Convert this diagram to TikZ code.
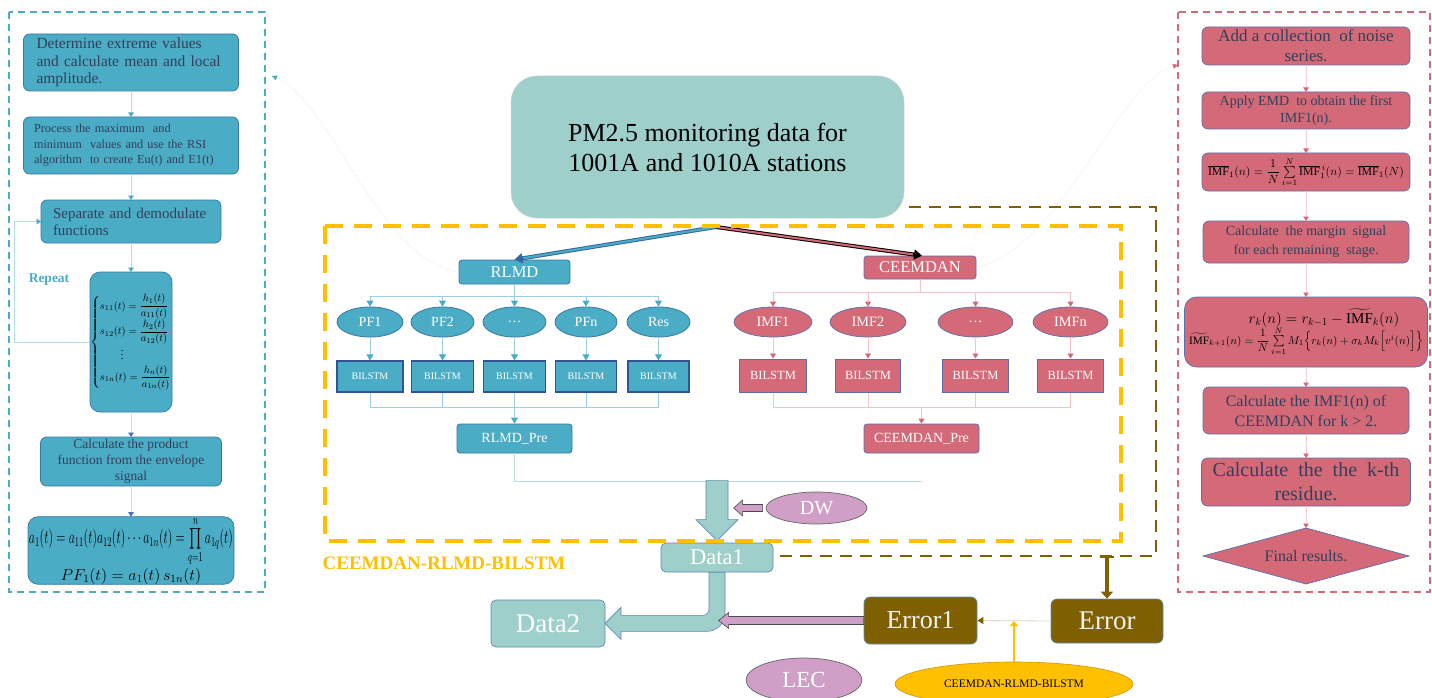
\RequirePackage{fix-cm}
\documentclass[tikz,border=0pt]{standalone}
\usepackage{amsmath}
\usepackage{graphicx}
\usepackage{fontspec}
\setmainfont{Liberation Serif}
\usetikzlibrary{arrows.meta,shapes.geometric,calc}
\definecolor{cblue}{HTML}{4BACC6}
\definecolor{cbluebd}{HTML}{3B77A4}
\definecolor{cbluedk}{HTML}{2F5597}
\definecolor{cbluelt}{HTML}{9CD0E0}
\definecolor{cred}{HTML}{D46A78}
\definecolor{credbd}{HTML}{5A6FAF}
\definecolor{credlt}{HTML}{F2C4CA}
\definecolor{cteal}{HTML}{9ECFCA}
\definecolor{ctealbd}{HTML}{5F88B4}
\definecolor{cbrown}{HTML}{7F6000}
\definecolor{cpink}{HTML}{CF9FC8}
\definecolor{corange}{HTML}{FFC000}
\definecolor{cnavy}{HTML}{333F5A}
\definecolor{cdblue}{HTML}{4472C4}
\newcommand\fsz[2]{\fontsize{#1}{#2}\selectfont}
\begin{document}
\begin{tikzpicture}[x=1pt,y=-1pt,
 lbox/.style={draw=cbluebd, fill=cblue, rounded corners=6pt, line width=0.7pt, inner sep=0pt, outer sep=0pt, text=cnavy},
 rbox/.style={draw=credbd, fill=cred, rounded corners=6pt, line width=0.7pt, inner sep=0pt, outer sep=0pt, text=cnavy, align=center},
 bnode/.style={draw=cbluebd, fill=cblue, line width=0.8pt, inner sep=0pt, text=white},
 bell/.style={bnode, ellipse, minimum height=30pt, font=\fsz{14}{16}},
 bbil/.style={draw=cbluedk, fill=cblue, line width=1.2pt, inner sep=0pt, text=white, minimum height=31pt, font=\fsz{10}{12}},
 rnode/.style={draw=credbd, fill=cred, line width=0.7pt, inner sep=0pt, text=white},
 rell/.style={rnode, ellipse, minimum height=30pt, font=\fsz{14.3}{16}},
 rbil/.style={draw=credbd, fill=cred, line width=1pt, inner sep=0pt, text=white, minimum height=33pt, font=\fsz{12.5}{14}},
 tbox/.style={draw=ctealbd, fill=cteal, line width=0.7pt, rounded corners=5pt, inner sep=0pt, text=white},
 pell/.style={draw=black!60, fill=cpink, ellipse, line width=0.7pt, inner sep=0pt, text=white},
 ebox/.style={draw=ctealbd, fill=cbrown, line width=0.7pt, rounded corners=6pt, inner sep=0pt, text=white!95!black},
 larrow/.style={draw=cblue!40, line width=0.6pt, -{Triangle[length=4.5pt,width=5.5pt,color=cblue]}},
 larrowd/.style={draw=cdblue!25, line width=0.6pt, -{Triangle[length=4.5pt,width=5.5pt,color=cdblue]}},
 rarrow/.style={draw=cred!30, line width=0.6pt, -{Triangle[length=4.5pt,width=5.5pt,color=cred]}},
 bline/.style={draw=cbluelt, line width=0.9pt},
 barrow/.style={bline, -{Triangle[length=6pt,width=7pt,color=cblue]}},
 rline/.style={draw=credlt, line width=0.7pt},
 rarr2/.style={rline, -{Triangle[length=5pt,width=6pt,color=cred]}},
 faint/.style={draw=black!5, line width=0.5pt}
]
\useasboundingbox (0,0) rectangle (1432,698);
\fill[white] (0,0) rectangle (1432,698);

% ---------------- left panel ----------------
\draw[cblue, line width=1.4pt, dash pattern=on 7pt off 5pt] (9,12) rectangle (265,592);
\node[lbox, minimum width=215pt, minimum height=57pt, text width=189pt, align=left, font=\fsz{15.5}{17.5}] (L1) at (131,62.5) {Determine extreme values\\and calculate mean and local\\amplitude.};
\node[lbox, minimum width=215pt, minimum height=57pt, text width=194pt, align=left, font=\fsz{12.3}{15.5}] (L2) at (131,145.5) {Process the maximum\ \ and\\minimum\ \ values and use the RSI\\algorithm\ \ to create Eu(t) and E1(t)};
\node[lbox, minimum width=180pt, minimum height=43pt, text width=156pt, align=left, font=\fsz{15}{17}] (L3) at (131,221.5) {Separate and demodulate\\functions};
\node[lbox, rounded corners=10pt, minimum width=82pt, minimum height=140pt, text=black, font=\fsz{10.5}{12}] (L4) at (131,342) {$\left\{\begin{array}{@{}l@{}} s_{11}(t)=\dfrac{h_1(t)}{a_{11}(t)}\\[7pt] s_{12}(t)=\dfrac{h_2(t)}{a_{12}(t)}\\[2pt] \qquad\vdots\\[2pt] s_{1n}(t)=\dfrac{h_n(t)}{a_{1n}(t)}\end{array}\right.$};
\node[lbox, minimum width=181pt, minimum height=49pt, align=center, font=\fsz{13.5}{16}] (L5) at (131,461.5) {Calculate the product\\function from the envelope\\signal};
\node[lbox, rounded corners=10pt, minimum width=206pt, minimum height=65pt, text=black, align=center, font=\fsz{16}{18}] (L6) at (131,550.5) {\resizebox{204pt}{27pt}{$a_1(t)=a_{11}(t)a_{12}(t)\cdots a_{1n}(t)=\prod\limits_{q=1}^{n}a_{1q}(t)$}\\[1pt]$PF_1(t)=a_1(t)\,s_{1n}(t)$};
\draw[larrow] (L1) -- (L2);
\draw[larrow] (L2) -- (L3);
\draw[larrow] (L3) -- (L4);
\draw[larrowd] (L4) -- (L5);
\draw[larrowd] (L5) -- (L6);
\coordinate (lp) at (14,0);
\draw[larrow] (L4.west) -- (L4.west -| lp) |- (L3.west);
\node[text=cblue, font=\fsz{13.5}{15}\bfseries] (rep) at (49,280) {Repeat};

% ---------------- right panel ----------------
\draw[cred, line width=1.4pt, dash pattern=on 7pt off 5pt] (1178,12) rectangle (1430,592);
\node[rbox, minimum width=208pt, minimum height=38pt, font=\fsz{17}{20}] (R1) at (1306,46) {Add a collection\ \ of noise\\series.};
\node[rbox, minimum width=208pt, minimum height=37pt, font=\fsz{14}{17}] (R2) at (1306,110.5) {Apply EMD\ \ to obtain the first\\IMF1(n).};
\node[rbox, minimum width=208pt, minimum height=38pt, text=black] (R3) at (1306,172) {\resizebox{196pt}{!}{$\overline{\mathrm{IMF}}_1(n)=\dfrac{1}{N}\sum\limits_{i=1}^{N}\overline{\mathrm{IMF}}{}_1^{\,i}(n)=\overline{\mathrm{IMF}}_1(N)$}};
\node[rbox, minimum width=206pt, minimum height=42pt, font=\fsz{14}{19}] (R4) at (1306,242) {Calculate\ \ the margin\ \ signal\\for each remaining\ \ stage.};
\node[rbox, rounded corners=12pt, minimum width=243pt, minimum height=70pt, text=black] (R5) at (1306,332) {\hspace*{36pt}{\fsz{15}{17}$r_k(n)=r_{k-1}-\widetilde{\mathrm{IMF}}_k(n)$}\\[-1pt]\resizebox{234pt}{!}{$\widetilde{\mathrm{IMF}}_{k+1}(n)=\dfrac{1}{N}\sum\limits_{i=1}^{N}M_1\Bigl\{r_k(n)+\sigma_k M_k\Bigl[v^{i}(n)\Bigr]\Bigr\}$}};
\node[rbox, minimum width=206pt, minimum height=47pt, font=\fsz{16}{20}] (R6) at (1306,410.5) {Calculate the IMF1(n) of\\CEEMDAN for k > 2.};
\node[rbox, minimum width=209pt, minimum height=48pt, font=\fsz{20}{24}] (R7) at (1306,482) {Calculate\ \ the\ \ the\ \ k-th\\residue.};
\node[rbox, diamond, rounded corners=0pt, aspect=3.7, minimum width=206pt, minimum height=56pt, font=\fsz{16}{18}] (R8) at (1306,556) {Final results.};
\draw[rarrow] (R1) -- (R2);
\draw[rarrow] (R2) -- (R3);
\draw[rarrow] (R3) -- (R4);
\draw[rarrow] (R4) -- (R5);
\draw[rarrow] (R5) -- (R6);
\draw[rarrow] (R6) -- (R7);
\draw[rarrow] (R7) -- (R8);

% ---------------- centre ----------------
\node[draw=gray!35, line width=0.5pt, fill=cteal, rounded corners=26pt, minimum width=393pt, minimum height=142pt, inner sep=0pt, align=center, font=\fsz{26}{30}] (PM) at (707.5,147) {PM2.5 monitoring data for\\1001A and 1010A stations};

\node[bnode, rounded corners=3pt, minimum width=111pt, minimum height=24pt, font=\fsz{16.5}{18}] (RLMD) at (514.5,272) {RLMD};
\node[rnode, rounded corners=3pt, minimum width=112pt, minimum height=23pt, font=\fsz{16.5}{18}] (CEE) at (920,267.5) {CEEMDAN};

\node[bell, minimum width=66pt] (PF1) at (370,322) {PF1};
\node[bell, minimum width=63pt] (PF2) at (442.5,322) {PF2};
\node[bell, minimum width=63pt] (PFd) at (514.5,322) {\dots};
\node[bell, minimum width=62pt] (PFn) at (586,322) {PFn};
\node[bell, minimum width=63pt] (Res) at (658.5,322) {Res};
\node[bbil, minimum width=66pt] (B1) at (370,376.5) {BILSTM};
\node[bbil, minimum width=62pt] (B2) at (442.5,376.5) {BILSTM};
\node[bbil, minimum width=62pt] (B3) at (514.5,376.5) {BILSTM};
\node[bbil, minimum width=61pt] (B4) at (586,376.5) {BILSTM};
\node[bbil, minimum width=61pt] (B5) at (658.5,376.5) {BILSTM};
\node[bnode, rounded corners=3pt, minimum width=115pt, minimum height=29pt, font=\fsz{14}{16}] (RLMDpre) at (514.5,438.5) {RLMD\_Pre};

\node[rell, minimum width=78pt] (I1) at (773,322) {IMF1};
\node[rell, minimum width=76pt] (I2) at (868,322) {IMF2};
\node[rell, minimum width=75pt] (Id) at (975.5,322) {\dots};
\node[rell, minimum width=75pt] (In) at (1070.5,322) {IMFn};
\node[rbil, minimum width=67pt] (C1) at (773,375.5) {BILSTM};
\node[rbil, minimum width=65pt] (C2) at (868,375.5) {BILSTM};
\node[rbil, minimum width=66pt] (C3) at (975.5,375.5) {BILSTM};
\node[rbil, minimum width=66pt] (C4) at (1070.5,375.5) {BILSTM};
\node[rnode, rounded corners=3pt, minimum width=115pt, minimum height=29pt, font=\fsz{14}{16}] (CEEpre) at (921.5,438.5) {CEEMDAN\_Pre};

% distribution trees
\coordinate (bh) at (0,296);
\coordinate (bc) at (0,407);
\draw[bline] (RLMD.south) -- (RLMD.south |- bh);
\draw[bline] (PF1.north |- bh) -- (Res.north |- bh);
\foreach \n in {PF1,PF2,PFd,PFn,Res} \draw[barrow] (\n.north |- bh) -- (\n.north);
\draw[barrow] (PF1) -- (B1);
\draw[barrow] (PF2) -- (B2);
\draw[barrow] (PFd) -- (B3);
\draw[barrow] (PFn) -- (B4);
\draw[barrow] (Res) -- (B5);
\foreach \n in {B1,B2,B3,B4,B5} \draw[bline] (\n.south) -- (\n.south |- bc);
\draw[bline] (B1.south |- bc) -- (B5.south |- bc);
\draw[barrow] (RLMDpre.north |- bc) -- (RLMDpre.north);

\coordinate (rh) at (0,292);
\draw[rline] (CEE.south) -- (CEE.south |- rh);
\draw[rline] (I1.north |- rh) -- (In.north |- rh);
\foreach \n in {I1,I2,Id,In} \draw[rarr2] (\n.north |- rh) -- (\n.north);
\draw[rarr2] (I1) -- (C1);
\draw[rarr2] (I2) -- (C2);
\draw[rarr2] (Id) -- (C3);
\draw[rarr2] (In) -- (C4);
\foreach \n in {C1,C2,C3,C4} \draw[rline] (\n.south) -- (\n.south |- bc);
\draw[rline] (C1.south |- bc) -- (C4.south |- bc);
\draw[rarr2] (CEEpre.north |- bc) -- (CEEpre.north);

% faint curved connectors
\coordinate (lA) at (272,76);
\coordinate (rA) at (1178,65);
\draw[faint, -{Triangle[length=5pt,width=5pt,color=cblue]}] (RLMD.west) .. controls (380,262) and (330,100) .. (lA);
\draw[faint, -{Triangle[length=5pt,width=5pt,color=cred]}] (CEE.east) .. controls (1060,250) and (1120,80) .. (rA);

% split arrows from PM
\coordinate (src) at (716,227);
\draw[line width=4pt, color=cbluedk!80!cblue, -{Triangle[length=8pt,width=10pt]}] (src) -- (RLMD.north);
\draw[line width=2pt, color=cblue, shorten >=9pt] (src) -- (RLMD.north);
\draw[line width=4pt, color=black, -{Triangle[length=8pt,width=10pt]}] (src) -- ([xshift=2pt]CEE.north);
\draw[line width=2pt, color=cred, shorten >=9pt] (src) -- ([xshift=2pt]CEE.north);

% data / error nodes
\node[tbox, minimum width=112pt, minimum height=29pt, font=\fsz{22.5}{24}] (D1) at (717,557.5) {Data1};
\node[tbox, minimum width=114pt, minimum height=47pt, font=\fsz{27}{30}] (D2) at (548,623.5) {Data2};
\node[pell, minimum width=101pt, minimum height=32pt, font=\fsz{20}{22}] (DW) at (816.5,508) {DW};
\node[pell, minimum width=116pt, minimum height=44pt, font=\fsz{23}{25}] (LEC) at (804,680) {LEC};
\node[ebox, minimum width=113pt, minimum height=47pt, font=\fsz{26}{28}] (E1) at (920.5,620.5) {Error1};
\node[ebox, minimum width=112pt, minimum height=44pt, font=\fsz{27}{29}] (E) at (1107,621) {Error};
\node[draw=corange!80!black, fill=corange, ellipse, line width=0.6pt, inner sep=0pt, minimum width=238pt, minimum height=44pt, font=\fsz{11.5}{13}] (CRB) at (1014,684) {CEEMDAN-RLMD-BILSTM};

% teal line from the pre nodes
\coordinate (th) at (0,481);
\draw[draw=cteal!70, line width=0.9pt] (RLMDpre.south) |- (CEEpre.south |- th);

% big teal arrow into Data1
\begin{scope}[shift={(D1.north)}]
\draw[fill=cteal, draw=ctealbd, line width=0.6pt] (-11,-62) -- (11,-62) -- (11,-23) -- (21,-23) -- (0,-2) -- (-21,-23) -- (-11,-23) -- cycle;
\end{scope}
% bent arrow Data1 -> Data2
\begin{scope}[shift={(D1.south)}]
\draw[fill=cteal, draw=ctealbd, line width=0.6pt] (-8,0) -- (8,0) [rounded corners=18pt] -- (8,59) [sharp corners] -- (-96,59) -- (-96,67) -- (-112,51) -- (-96,35) -- (-96,43) [rounded corners=6pt] -- (-8,43) [sharp corners] -- cycle;
\end{scope}
% DW arrow
\begin{scope}[shift={(DW.west)}]
\draw[fill=cpink, draw=black!70, line width=0.6pt] (-3,-3.5) -- (-23,-3.5) -- (-23,-8) -- (-32,0) -- (-23,8) -- (-23,3.5) -- (-3,3.5) -- cycle;
\end{scope}
% Error1 -> Data2 arrow (pink)
\begin{scope}[shift={(E1.west)}]
\draw[fill=cpink, draw=black!70, line width=0.6pt] (0,-4) -- (-135,-4) -- (-135,-8) -- (-145,0) -- (-135,8) -- (-135,4) -- (0,4) -- cycle;
\end{scope}

% Error -> Error1
\draw[draw=cbrown!25, line width=0.8pt, -{Triangle[length=6pt,width=7pt,color=cbrown]}] (E.west) -- (E1.east);
\draw[corange, line width=2.5pt, -{Triangle[length=5pt,width=8pt]}] (CRB.north) -- (CRB.north |- E.west);

% dashed frames
\draw[corange, line width=3.5pt, dash pattern=on 18pt off 11pt] (325,226) rectangle (1121,541);
\coordinate (bb) at (0,556);
\draw[cbrown, line width=2pt, dash pattern=on 12pt off 8pt] (909,207) -- (1156,207) -- (1156,556) -- (D1.east |- bb);
\draw[cbrown, line width=3.5pt, {Bar[width=14pt,line width=2pt]}-{Triangle[length=7pt,width=12pt]}] (E.north |- bb) -- (E.north);
\node[text=corange, font=\fsz{19}{21}\bfseries] (lbl) at (444,563) {CEEMDAN-RLMD-BILSTM};
\end{tikzpicture}
\end{document}
